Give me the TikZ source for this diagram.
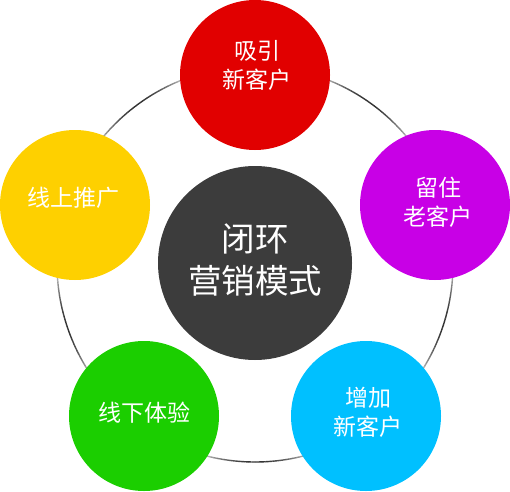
\documentclass[tikz,border=0pt]{standalone}
\usepackage{fontspec}
\newfontfamily\cjk{Noto Sans CJK SC}
\definecolor{cred}{RGB}{225,0,0}
\definecolor{cpurple}{RGB}{200,0,230}
\definecolor{cyellow}{RGB}{254,208,0}
\definecolor{cgreen}{RGB}{27,206,0}
\definecolor{cblue}{RGB}{0,192,255}
\definecolor{cdark}{RGB}{60,60,60}
\begin{document}
\begin{tikzpicture}[x=1pt,y=1pt,
  petal/.style={circle,minimum size=150pt,inner sep=0pt},
  hub/.style={circle,minimum size=194pt,inner sep=0pt,fill=cdark},
  ptext/.style={font=\cjk\fontsize{23}{29}\selectfont,text=white,align=center},
  htext/.style={font=\cjk\fontsize{33.5}{42}\selectfont,text=white,align=center}]
\useasboundingbox (0,0) rectangle (510,491);
% ring with fading segments
\foreach \k in {0,...,4}{
  \foreach \i in {18,...,54}{
    \pgfmathsetmacro\a{18+72*\k+\i}
    \pgfmathsetmacro\d{max(5,min(80,8+72*sin(180*(\i-18)/36)))}
    \draw[line width=1.4pt,color=black!\d] ({255+198*cos(\a)},{227+198*sin(\a)}) arc[start angle=\a,end angle=\a+1.05,radius=198];
  }
}
\node[hub] (hub) at (255,228) {};
\node[htext] (hubt) at (255,231) {闭环\\营销模式};
\node[petal,fill=cred] (p1) at (255,416) {};
\node[petal,fill=cpurple] (p2) at (435,286) {};
\node[petal,fill=cblue] (p3) at (366,75) {};
\node[petal,fill=cgreen] (p4) at (144,75) {};
\node[petal,fill=cyellow] (p5) at (75,286) {};
\node[ptext] (t1) at (257,426) {吸引\\新客户};
\node[ptext] (t2) at (438,289) {留住\\老客户};
\node[ptext] (t3) at (368,79) {增加\\新客户};
\node[ptext] (t4) at (144,78) {线下体验};
\node[ptext] (t5) at (73,293) {线上推广};
\end{tikzpicture}
\end{document}
